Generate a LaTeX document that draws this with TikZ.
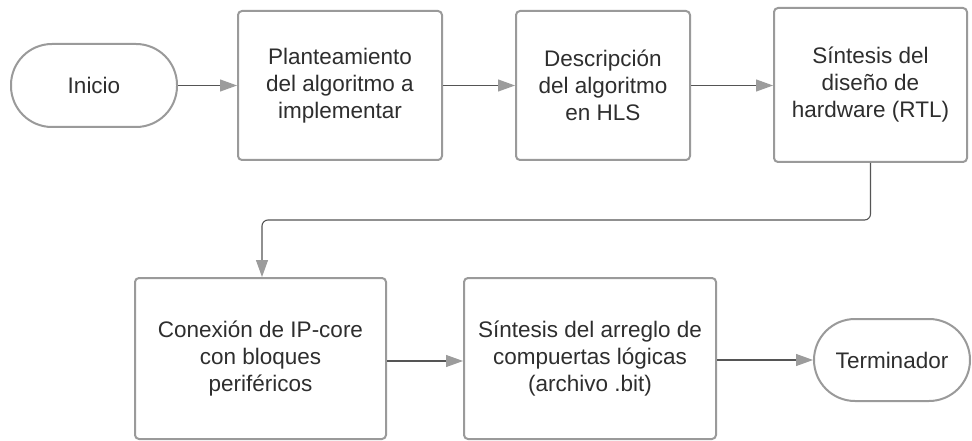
\documentclass[tikz,border=0pt]{standalone}
\usepackage{fontspec}
\setmainfont{Liberation Sans}
\usetikzlibrary{arrows.meta}
\definecolor{boxgray}{HTML}{9A9A9A}
\definecolor{linegray}{HTML}{555555}
\definecolor{tipgray}{HTML}{9C9C9C}
\definecolor{txt}{HTML}{2E2E2E}
\begin{document}
\begin{tikzpicture}[x=1pt,y=-1pt,
  procbox/.style={draw=boxgray, line width=2pt, rounded corners=4pt, fill=white,
    align=center, text=txt, font=\fontsize{22.5}{27}\selectfont, inner sep=0pt},
  termbox/.style={procbox, rounded corners=41pt},
  flow/.style={draw=linegray, line width=1.1pt,
    -{Triangle[length=17pt,width=12pt,color=tipgray,fill=tipgray]}}]
\useasboundingbox[fill=white] (0,0) rectangle (972,441);

\node[termbox, minimum width=166pt, minimum height=83pt] (ini) at (94,85.5) {Inicio};
\node[procbox, minimum width=204pt, minimum height=149pt] (b1) at (340,85.5)
  {Planteamiento\\del algoritmo a\\implementar};
\node[procbox, minimum width=174pt, minimum height=149pt] (b2) at (603,85.5)
  {Descripción\\del algoritmo\\en HLS};
\node[procbox, minimum width=193pt, minimum height=154pt] (b3) at (870.5,85)
  {Síntesis del\\diseño de\\hardware (RTL)};
\node[procbox, minimum width=251pt, minimum height=161pt] (b4) at (260.5,358.5)
  {Conexión de IP-core\\con bloques\\periféricos};
\node[procbox, minimum width=252pt, minimum height=161pt] (b5) at (590,358.5)
  {Síntesis del arreglo de\\compuertas lógicas\\(archivo .bit)};
\node[termbox, minimum width=156pt, minimum height=82pt] (fin) at (892,360)
  {Terminador};

\coordinate (bend) at (262,220);

\draw[flow] (ini) -- (b1);
\draw[flow] (b1) -- (b2);
\draw[flow] (b2) -- (b3.west |- b2);
\draw[flow, rounded corners=6pt] (b3.south) |- (bend) -- (bend |- b4.north);
\draw[flow] (b4.east |- 0,361) -- (b5.west |- 0,361);
\draw[flow] (b5.east |- fin) -- (fin);
\end{tikzpicture}
\end{document}
